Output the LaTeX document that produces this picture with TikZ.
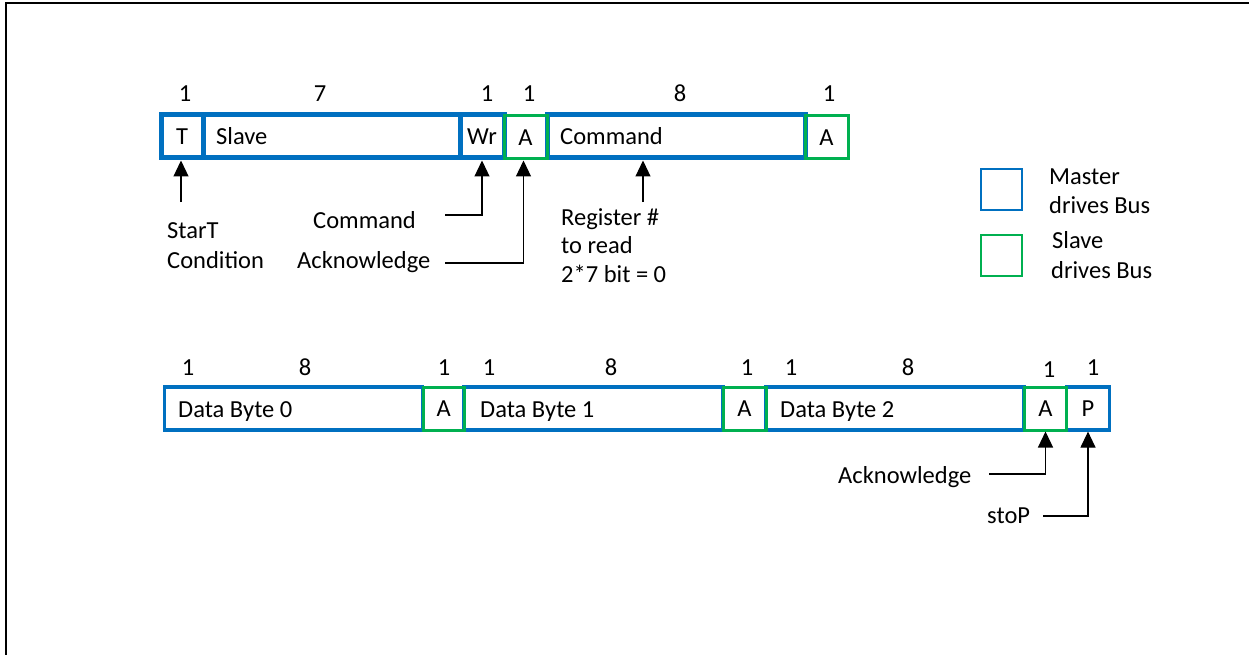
\documentclass[tikz,border=0pt]{standalone}
\usepackage{fontspec}
\setmainfont{Carlito}
\usetikzlibrary{arrows.meta}
\definecolor{mblue}{HTML}{0070C0}
\definecolor{sgreen}{HTML}{00B050}
\begin{document}
\begin{tikzpicture}[x=1pt,y=-1pt,
  txt/.style={font=\fontsize{24.5}{29}\selectfont, inner sep=0pt, anchor=base},
  lft/.style={txt, anchor=base west},
  mcell/.style={draw=mblue, line width=5pt, minimum height=43pt, inner sep=0pt, font=\fontsize{24.5}{29}\selectfont},
  mcellb/.style={draw=mblue, line width=3.2pt, minimum height=43pt, inner sep=0pt, font=\fontsize{24.5}{29}\selectfont},
  scell/.style={draw=sgreen, line width=3pt, minimum height=43pt, inner sep=0pt, font=\fontsize{24.5}{29}\selectfont},
  legbox/.style={line width=2.7pt, minimum width=41pt, minimum height=41pt, inner sep=0pt},
  arr/.style={line width=1.2pt, -{Triangle[width=15pt,length=16pt]}}
]
\useasboundingbox (0,0) rectangle (1249,655);
% frame
\draw[line width=2.3pt] (5.8,655) -- (5.8,2.8) -- (1249,2.8);

% ---- top row ----
\node[mcell, minimum width=42pt] (t1) at (182,136.5) {T};
\node[mcell, minimum width=257pt] (slave) at (331.5,136.5) {};
\node[mcell, minimum width=44pt] (wr) at (482,136.5) {Wr};
\node[mcell, minimum width=258pt] (cmd) at (676,136.5) {};
\node[scell, minimum width=43pt] (a1) at (525.5,137.5) {A};
\node[scell, minimum width=43pt] (a2) at (826.5,137.5) {A};
\node[lft] (slavet) at (216,145) {Slave};
\node[lft] (cmdt) at (560,145) {Command};

% top numbers
\node[txt] (n1) at (185,102) {1};
\node[txt] (n2) at (320,102) {7};
\node[txt] (n3) at (487,102) {1};
\node[txt] (n4) at (529,102) {1};
\node[txt] (n5) at (680,102) {8};
\node[txt] (n6) at (829,102) {1};

% top labels
\node[lft] (start) at (167,238) {StarT};
\node[lft] (cond) at (167,268) {Condition};
\node[lft] (cmdl) at (313,228) {Command};
\node[lft] (ackl) at (297,268) {Acknowledge};
\node[lft] (reg1) at (561,225) {Register \#};
\node[lft] (reg2) at (561,253) {to read};
\node[lft] (reg3) at (561,282) {2*7 bit = 0};

% top arrows
\coordinate (ta) at (181,202);
\draw[arr] (ta) -- (ta |- t1.south);
\coordinate (wa) at (445,215);
\draw[arr] (wa) -| (wr.south);
\coordinate (aa) at (445,263);
\draw[arr] (aa) -| ([xshift=-2pt]a1.south);
\coordinate (ca) at (643,202);
\draw[arr] (ca) -- (ca |- cmd.south);

% legend
\node[legbox, draw=mblue] (legm) at (1001.5,189.5) {};
\node[legbox, draw=sgreen] (legs) at (1001.5,255.5) {};
\node[lft] (lm1) at (1049,185) {Master};
\node[lft] (lm2) at (1049,213) {drives Bus};
\node[lft] (ls1) at (1052,248) {Slave};
\node[lft] (ls2) at (1051,278) {drives Bus};

% ---- bottom row ----
\node[mcellb, minimum width=258pt] (d0) at (293.5,408.5) {};
\node[mcellb, minimum width=259pt] (d1) at (593.5,408.5) {};
\node[mcellb, minimum width=258pt] (d2) at (895,408.5) {};
\node[mcellb, minimum width=43pt] (p) at (1088,408.5) {P};
\node[scell, minimum width=41.5pt] (da0) at (443.75,408.5) {A};
\node[scell, minimum width=43pt] (da1) at (744.5,408.5) {A};
\node[scell, minimum width=42pt] (da2) at (1045.5,408.5) {A};
\node[lft] (d0t) at (178,417) {Data Byte 0};
\node[lft] (d1t) at (480,417) {Data Byte 1};
\node[lft] (d2t) at (780,417) {Data Byte 2};

% bottom numbers
\node[txt] (b1) at (188,375) {1};
\node[txt] (b2) at (305,375) {8};
\node[txt] (b3) at (444,375) {1};
\node[txt] (b4) at (489,375) {1};
\node[txt] (b5) at (611,375) {8};
\node[txt] (b6) at (747,375) {1};
\node[txt] (b7) at (791,375) {1};
\node[txt] (b8) at (908,375) {8};
\node[txt] (b9) at (1049,377) {1};
\node[txt] (b10) at (1093,375) {1};

% bottom labels and arrows
\node[lft] (ack2) at (838,483) {Acknowledge};
\node[lft] (stop) at (987,523) {stoP};
\coordinate (ba) at (989,474);
\draw[arr] (ba) -| (da2.south);
\coordinate (sa) at (1043,516);
\draw[arr] (sa) -| (p.south);
\end{tikzpicture}
\end{document}
